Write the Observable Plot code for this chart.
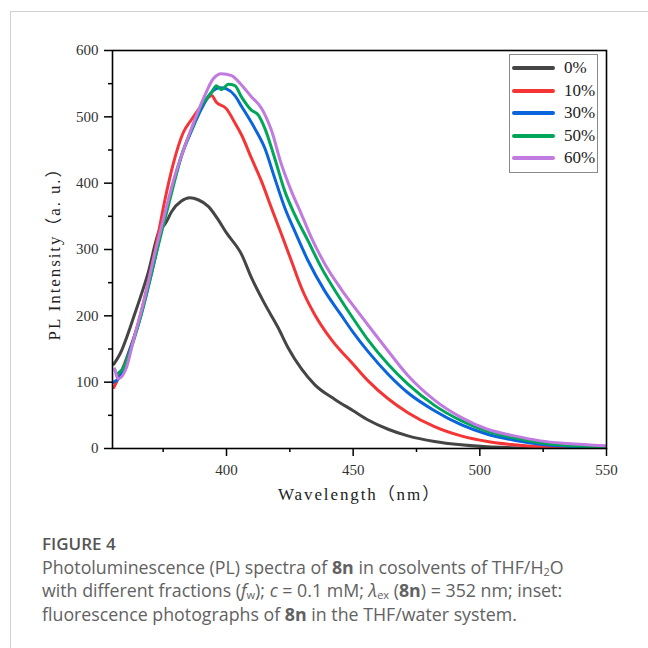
<!DOCTYPE html>
<html><head><meta charset="utf-8">
<script src="https://cdn.jsdelivr.net/npm/d3@7"></script>
<script src="https://cdn.jsdelivr.net/npm/@observablehq/plot@0.6"></script>
<style>
html,body{margin:0;padding:0;background:#fff;}
#wrap{position:relative;width:648px;height:648px;overflow:hidden;background:#fff;}
#border{position:absolute;left:10px;top:11px;right:-2px;bottom:-2px;border-top:1px solid #d0d0d0;border-left:1px solid #d0d0d0;}
#chart{position:absolute;left:0;top:0;}
#legend{position:absolute;left:509px;top:54px;width:89px;height:119px;border:1.5px solid #8a8a8a;box-sizing:border-box;font-family:"Liberation Serif",serif;font-size:17px;color:#222;background:#fff;}
.row{position:absolute;left:0;height:20px;display:flex;align-items:center;}
.sw{width:43px;height:4px;margin-left:2px;border-radius:2px;}
.lb{margin-left:9px;}
#caption{position:absolute;left:42px;top:532px;font-family:"Open Sans",sans-serif;color:#626262;font-size:17.8px;line-height:23.5px;white-space:nowrap;}
#caption .fig{font-size:17px;font-weight:600;color:#555;}
#caption sub{font-size:11px;line-height:0;vertical-align:-0.2em;}
g[aria-label="x-axis label"] text, g[aria-label="y-axis label"] text{letter-spacing:1.9px;}
</style>
</head><body>
<div id="wrap">
<div id="border"></div>
<div id="chart"></div>
<div id="legend"></div>
<div id="caption"><span class="fig">FIGURE 4</span><br>Photoluminescence (PL) spectra of <b>8n</b> in cosolvents of THF/H<sub>2</sub>O<br>with different fractions (<i>f</i><sub>w</sub>); <i>c</i> = 0.1 mM; <i>λ</i><sub>ex</sub> (<b>8n</b>) = 352 nm; inset:<br>fluorescence photographs of <b>8n</b> in the THF/water system.</div>
</div>
<script>
const seriesLabels = ["0%", "10%", "30%", "50%", "60%"];
const seriesColors = ["#454545", "#f53535", "#0a64dc", "#00a65a", "#c07ae0"];

const wl0 = [355.5,357.9,363.8,369,373.7,375,376.3,378.3,382.2,385.5,388.8,392.8,396.7,400,405.9,409.8,415.1,420.4,424.3,429.6,434.9,442.8,450,455.9,463.8,471.6,482.1,492.6,503,513,521,535,550];
const pl0 = [127,142,203,264,330,335,342,357,373,378,375,365,345,325,293,258,218,182,152,120,96,74,57,43,29,19,10.5,5.5,2.5,1.2,0.5,0.2,0];

const wl10 = [355.5,357.2,361.2,365.1,369,372.4,375.7,378.9,382.9,386.2,390.1,392.8,394.1,396,400,403.3,405.9,409.8,413.8,417.7,421.7,425.6,429.6,434.8,441.4,450,455.9,463.8,471.6,482.1,492.6,503,513.6,524,535,550];
const pl10 = [92,105,143,188,249,310,375,428,476,496,517,529,532,522,512,491,473,438,403,363,323,283,242,202,164,127,102,75,54,33,19,10.5,5.5,2.5,1.5,1];

const wl30 = [355.5,357.9,361.8,366.4,370.4,374.3,378.3,382.2,386.2,390.1,394.1,397.4,400,403.3,405.9,411.1,415.1,419,423,426.9,432.2,438.7,445.3,450,455.9,463.8,471.6,482.1,492.6,503,513.6,524,534.5,550];
const pl30 = [100,108,148,203,264,330,390,441,479,512,537,544,542,532,516,483,453,408,363,328,283,238,201,175,146,112,84,57,36,21.5,12.5,6.5,3.5,1.5];

const wl50 = [356.6,358.6,362.5,366.4,370.4,374.3,378.3,382.2,386.2,390.1,394.1,396,398,400.7,403.3,405.9,409.8,412.5,415.1,419,423,426.9,432.2,437.4,444,450,456,463.8,471.6,482.1,492.6,503,513.6,524,534.5,550];
const pl50 = [112,118,153,203,264,325,385,441,481,517,537,547,541,549,547,530,510,503,483,438,388,353,313,273,231,196,163,127,97,65,42,26,16,8.5,4.5,2.5];

const wl60 = [355.9,357.3,360.5,363.2,367.8,371.7,375.7,379.6,383.6,387.5,391.4,394.7,398,402,405.9,409.9,413.8,417.7,421.7,425.6,429.6,433.5,438.7,445.3,451.9,458.5,463.8,471.6,482.1,492.6,503,513.6,524,534.5,550];
const pl60 = [120,105,122,162,229,294,355,411,456,496,532,557,565,562,548,530,513,480,428,388,353,318,279,240,206,173,147,110,73,47,29,19,11.5,7.5,4];

const xMajor = [400, 450, 500, 550];
const xMinor = [375, 425, 475, 525];
const yMajor = [0, 100, 200, 300, 400, 500, 600];
const yMinor = [50, 150, 250, 350, 450, 550];

const wls = [wl0, wl10, wl30, wl50, wl60];
const pls = [pl0, pl10, pl30, pl50, pl60];
const data = [];
seriesLabels.forEach((s, i) => wls[i].forEach((w, j) => data.push({series: s, wl: w, pl: pls[i][j]})));

const chart = Plot.plot({
  width: 648, height: 520,
  marginLeft: 112, marginRight: 42, marginTop: 50, marginBottom: 72,
  x: {domain: [355, 550]},
  y: {domain: [0, 600]},
  color: {domain: seriesLabels, range: seriesColors},
  style: {fontFamily: "Liberation Serif, serif", fontSize: "15px", color: "#000", background: "transparent"},
  marks: [
    Plot.line(data, {x: "wl", y: "pl", z: "series", stroke: "series", strokeWidth: 3, curve: "monotone-x", clip: true}),
    Plot.frame({stroke: "#000", strokeWidth: 1.6}),
    Plot.axisX({ticks: xMinor, tickSize: 4, text: null, label: null, strokeWidth: 1.5}),
    Plot.axisY({ticks: yMinor, tickSize: 4, text: null, label: null, strokeWidth: 1.5}),
    Plot.axisX({ticks: xMajor, tickSize: 8, tickPadding: 8, tickFormat: d => String(d), fill: "#333", strokeWidth: 1.5,
      label: "Wavelength（nm）", labelAnchor: "center", labelOffset: 51, labelArrow: "none"}),
    Plot.axisY({ticks: yMajor, tickSize: 8, tickPadding: 6, tickFormat: d => String(d), fill: "#333", strokeWidth: 1.5,
      label: "PL Intensity（a. u.）", labelAnchor: "center", labelOffset: 65, labelArrow: "none"})
  ]
});
document.getElementById("chart").appendChild(chart);
d3.select(chart).selectAll('g[aria-label="x-axis label"] text, g[aria-label="y-axis label"] text')
  .style("font-size", "17px").style("font-family", "'Liberation Serif', 'Noto Sans CJK SC', serif").attr("fill", "#222");

const leg = document.getElementById("legend");
const rowCenters = [12.5, 35.5, 58, 80.5, 103];
seriesLabels.forEach((s, i) => {
  const r = document.createElement("div");
  r.className = "row";
  r.style.top = (rowCenters[i] - 10) + "px";
  r.innerHTML = `<div class="sw" style="background:${seriesColors[i]}"></div><span class="lb">${s}</span>`;
  leg.appendChild(r);
});
</script>
</body></html>
